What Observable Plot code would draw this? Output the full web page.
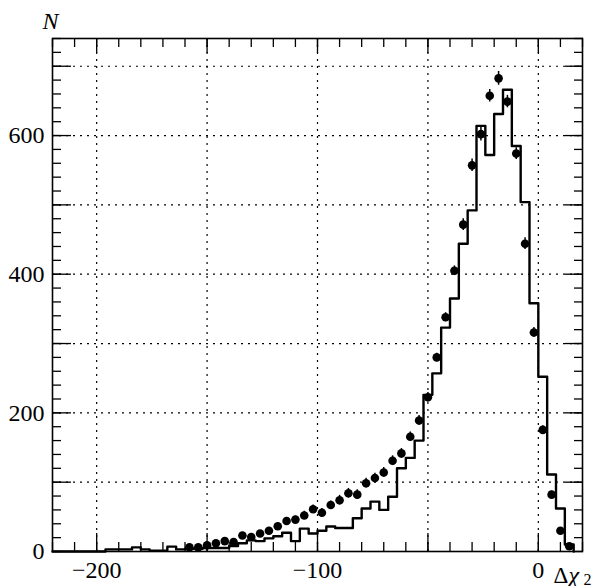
<!DOCTYPE html>
<html><head><meta charset="utf-8">
<script src="https://cdn.jsdelivr.net/npm/d3@7"></script>
<script src="https://cdn.jsdelivr.net/npm/@observablehq/plot@0.6"></script>
<style>html,body{margin:0;padding:0;background:#fff}</style>
</head><body><div id="chart"></div>
<script>
// Histogram (simulation) – left edge of each 4-unit bin and its count
const binLeft = [-220,-216,-212,-208,-204,-200,-196,-192,-188,-184,-180,-176,-172,-168,-164,-160,-156,-152,-148,-144,-140,-136,-132,-128,-124,-120,-116,-112,-108,-104,-100,-96,-92,-88,-84,-80,-76,-72,-68,-64,-60,-56,-52,-48,-44,-40,-36,-32,-28,-24,-20,-16,-12,-8,-4,0,4,8,12,16];
const mcCounts = [0,0,0,0,0,0,3,3,3,6,3,1,1,7,3,4,4,5,5,5,8,12,16,15,19,22,27,15,33,26,30,36,34,34,48,62,72,60,79,120,135,160,226,257,323,365,444,492,614,572,631,666,585,504,358,252,111,62,10,0];

// Data points (bin centres), counts and error-bar half lengths
const dataX = [-158,-154,-150,-146,-142,-138,-134,-130,-126,-122,-118,-114,-110,-106,-102,-98,-94,-90,-86,-82,-78,-74,-70,-66,-62,-58,-54,-50,-46,-42,-38,-34,-30,-26,-22,-18,-14,-10,-6,-2,2,6,10,14];
const dataN = [6,6,9,12,15,13.5,23,21,26,30,36.5,44,46,52,61,56,67,74,84,82,98.5,106,114,131,141.5,165.5,189,222.5,280,338,405,471.5,557,602,657.5,682.5,649,574,444,316,175.5,82,30,7.6];
const dataErr = [2,2,2,3,3,3,4,4,4,4,5,5,5,6,6,6,6,7,7,7,7,7,7,7,7,7,7,7,6,6.5,7,8.5,9,10,9,10,9,8.5,8.5,7,6,5,3,2];

// Axis ticks
const xLabelTicks = [-200,-100,0];
const yLabelTicks = [0,200,400,600];
const xGridTicks = [-200,-150,-100,-50,0];
const yGridTicks = [100,200,300,400,500,600,700];
const xMinorTicks = d3.range(-220, 21, 10);
const yMinorTicks = d3.range(0, 741, 20);

const hist = binLeft.map((x, i) => ({x, n: mcCounts[i]}));
const pts = dataX.map((x, i) => ({x, n: dataN[i], e: dataErr[i]}));
const fmt = d => d < 0 ? "\u2212" + (-d) : String(d);
const serif = "Liberation Serif";

const chart = Plot.plot({
  width: 599, height: 586,
  marginLeft: 52, marginTop: 38, marginRight: 17, marginBottom: 35,
  style: {fontFamily: serif},
  x: {domain: [-220, 20]},
  y: {domain: [0, 740]},
  marks: [
    Plot.gridX({ticks: xGridTicks, stroke: "black", strokeOpacity: 1, strokeWidth: 1.2, strokeDasharray: "2,5"}),
    Plot.gridY({ticks: yGridTicks, stroke: "black", strokeOpacity: 1, strokeWidth: 1.2, strokeDasharray: "2,5"}),
    // minor ticks pointing inward on all four sides
    Plot.axisX({ticks: xMinorTicks, anchor: "bottom", tickSize: -9, text: null, label: null, strokeWidth: 1.3}),
    Plot.axisX({ticks: xMinorTicks, anchor: "top", tickSize: -8, text: null, label: null, strokeWidth: 1.3}),
    Plot.axisY({ticks: yMinorTicks, anchor: "left", tickSize: -9, text: null, label: null, strokeWidth: 1.3}),
    Plot.axisY({ticks: yMinorTicks, anchor: "right", tickSize: -9, text: null, label: null, strokeWidth: 1.3}),
    // major ticks
    Plot.axisX({ticks: xGridTicks, anchor: "bottom", tickSize: -18, text: null, label: null, strokeWidth: 1.3}),
    Plot.axisX({ticks: xGridTicks, anchor: "top", tickSize: -14, text: null, label: null, strokeWidth: 1.3}),
    Plot.axisY({ticks: yGridTicks, anchor: "left", tickSize: -19, text: null, label: null, strokeWidth: 1.3}),
    Plot.axisY({ticks: yGridTicks, anchor: "right", tickSize: -18, text: null, label: null, strokeWidth: 1.3}),
    // tick labels
    Plot.axisX({ticks: xLabelTicks, anchor: "bottom", tickSize: 0, tickPadding: 9, tickFormat: fmt, label: null, fontSize: 24, fontFamily: serif}),
    Plot.axisY({ticks: yLabelTicks, anchor: "left", tickSize: 0, tickPadding: 8, tickFormat: fmt, label: null, fontSize: 24, fontFamily: serif}),
    Plot.frame({stroke: "black", strokeWidth: 1.6}),
    // histogram
    Plot.line(hist, {x: "x", y: "n", curve: "step-after", stroke: "black", strokeWidth: 2.4}),
    // data with error bars
    Plot.ruleX(pts, {x: "x", y1: d => d.n - d.e, y2: d => d.n + d.e, stroke: "black", strokeWidth: 1.5}),
    Plot.dot(pts, {x: "x", y: "n", r: 4.3, fill: "black", stroke: "none"}),
    // axis titles
    Plot.text(["N"], {text: d => d, frameAnchor: "top-left", textAnchor: "middle", lineAnchor: "bottom", dx: -2, dy: -10, fontStyle: "italic", fontSize: 24, fontFamily: serif}),
    Plot.text(["\u0394"], {text: d => d, frameAnchor: "bottom-right", textAnchor: "start", lineAnchor: "bottom", dx: -29, dy: 31, fontSize: 23, fontFamily: serif}),
    Plot.text(["\u03c7"], {text: d => d, frameAnchor: "bottom-right", textAnchor: "start", lineAnchor: "bottom", dx: -14, dy: 31, fontStyle: "italic", fontSize: 24, fontFamily: serif}),
    Plot.text(["2"], {text: d => d, frameAnchor: "bottom-right", textAnchor: "start", lineAnchor: "bottom", dx: 1, dy: 33, fontSize: 16, fontFamily: serif})
  ]
});
// make text styling explicit (inline) so nothing else can override it
d3.select(chart).selectAll("text").each(function() {
  let el = this, fs = null;
  while (el && el !== chart && !fs) { fs = el.getAttribute && el.getAttribute("font-size"); el = el.parentNode; }
  this.style.fontFamily = "'Liberation Serif', serif";
  if (fs) this.style.fontSize = fs + "px";
});
document.getElementById("chart").appendChild(chart);
</script>
</body></html>
